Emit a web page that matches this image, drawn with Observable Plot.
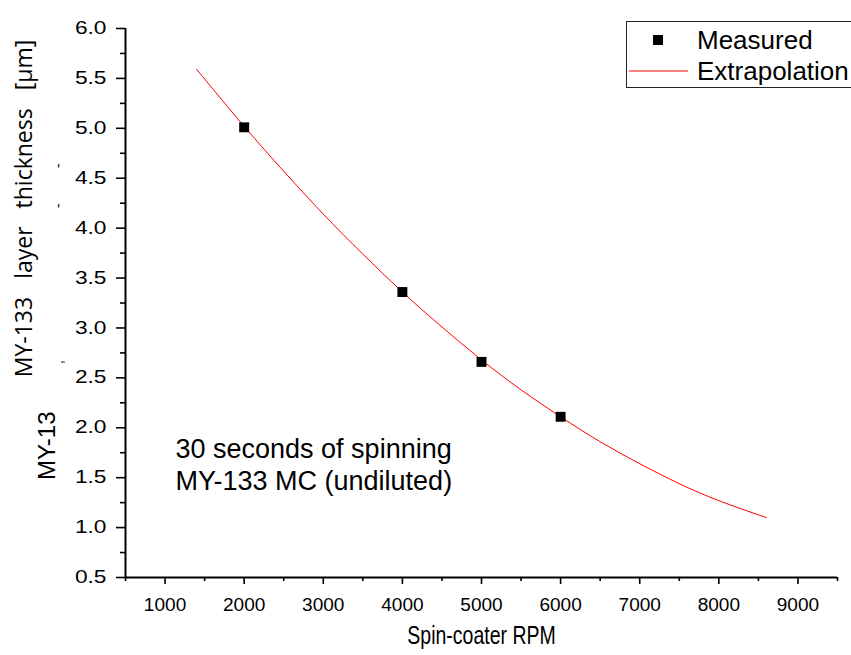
<!DOCTYPE html>
<html>
<head>
<meta charset="utf-8">
<script src="https://cdn.jsdelivr.net/npm/d3@7"></script>
<script src="https://cdn.jsdelivr.net/npm/@observablehq/plot@0.6"></script>
<style>
  html, body { margin: 0; padding: 0; background: white; overflow: hidden; }
  #chart { position: relative; width: 851px; height: 655px; }
</style>
</head>
<body>
<div id="chart"></div>
<script>
// Measured points (RPM, thickness µm)
const measuredRPM = [2000, 4000, 5000, 6000];
const measuredThickness = [5.01, 3.36, 2.66, 2.11];

// Extrapolation curve
const curveRPM = [1400, 2000, 2500, 3000, 3500, 4000, 4500, 5000, 5500, 6000, 6500, 7000, 7500, 8000, 8600];
const curveThickness = [5.59, 5.02, 4.57, 4.14, 3.74, 3.36, 3.01, 2.68, 2.38, 2.11, 1.86, 1.64, 1.44, 1.27, 1.10];

// Axis ticks
const xTicks = [1000, 2000, 3000, 4000, 5000, 6000, 7000, 8000, 9000];
const xMinorTicks = [500, 1500, 2500, 3500, 4500, 5500, 6500, 7500, 8500, 9500];
const yTicks = [0.5, 1.0, 1.5, 2.0, 2.5, 3.0, 3.5, 4.0, 4.5, 5.0, 5.5, 6.0];
const yMinorTicks = [0.75, 1.25, 1.75, 2.25, 2.75, 3.25, 3.75, 4.25, 4.75, 5.25, 5.75];

const xTitle = "Spin-coater RPM";
const yTitle = "MY-133 layer thickness [\u03bcm]";
const noteLines = ["30 seconds of spinning", "MY-133 MC (undiluted)"];
const legendLabels = ["Measured", "Extrapolation"];

const measured = measuredRPM.map((x, i) => ({x, y: measuredThickness[i]}));
const curve = curveRPM.map((x, i) => ({x, y: curveThickness[i]}));

const plot = Plot.plot({
  width: 851,
  height: 655,
  marginTop: 28,
  marginRight: 14,
  marginBottom: 78,
  marginLeft: 125,
  x: {domain: [500, 9500]},
  y: {domain: [0.5, 6.0]},
  style: {fontFamily: "'Liberation Sans', Arial, sans-serif", color: "black", background: "white"},
  marks: [
    Plot.axisX({ticks: xTicks, tickSize: 7, tickPadding: 13, fontSize: 18.5, strokeWidth: 1.6, label: null, tickFormat: d => String(d)}),
    Plot.axisX({ticks: xMinorTicks, tickSize: 4, strokeWidth: 1.6, text: null, label: null}),
    Plot.axisY({ticks: yTicks, tickSize: 9, tickPadding: 10, fontSize: 17.5, strokeWidth: 1.6, label: null, tickFormat: d => d.toFixed(1)}),
    Plot.axisY({ticks: yMinorTicks, tickSize: 5, strokeWidth: 1.6, text: null, label: null}),
    Plot.ruleX([500], {strokeWidth: 2}),
    Plot.ruleY([0.5], {strokeWidth: 2}),
    Plot.line(curve, {x: "x", y: "y", stroke: "red", strokeWidth: 1, curve: "natural"}),
    Plot.dot(measured, {x: "x", y: "y", symbol: "square", fill: "black", r: 5.6}),
    Plot.text([xTitle], {frameAnchor: "bottom", dy: 66, fontSize: 25}),
    Plot.text([yTitle], {frameAnchor: "top-left", dx: -110, dy: 180, rotate: -90, textAnchor: "middle", fontSize: 23, fontFamily: "'Open Sans', sans-serif", fill: "black"}),
    Plot.text([noteLines.join("\n")], {frameAnchor: "top-left", dx: 50, dy: 407, textAnchor: "start", lineAnchor: "top", lineHeight: 1.17, fontSize: 27})
  ]
});

document.getElementById("chart").appendChild(plot);

const svg = d3.select(plot);
// stretch / condense texts like the original export
svg.selectAll('g[aria-label="y-axis tick label"] text').each(function() {
  const t = d3.select(this).attr("transform") || "";
  d3.select(this).attr("transform", t + " scale(1.3,1)");
});
svg.selectAll('g[aria-label="x-axis tick label"] text').each(function() {
  const t = d3.select(this).attr("transform") || "";
  d3.select(this).attr("transform", t + " scale(1.03,1)");
});
svg.selectAll('g[aria-label="text"] text').filter(function() { return d3.select(this).text() === xTitle; }).each(function() {
  const t = d3.select(this).attr("transform") || "";
  d3.select(this).attr("transform", t + " scale(0.78,1)");
});
svg.selectAll('g[aria-label="text"] text').filter(function() { return d3.select(this).text() === yTitle; })
  .attr("word-spacing", "12px");

// leftover label fragments from the original
const frag = svg.append("g").attr("font-family", "'Liberation Sans', Arial, sans-serif").attr("fill", "black").attr("text-anchor", "start");
frag.append("text").attr("transform", "translate(55,480) rotate(-90)").attr("font-size", 24).text("MY-13");
frag.append("text").attr("transform", "translate(63,168) rotate(-90)").attr("font-size", 14).text("-");
frag.append("text").attr("transform", "translate(63,208) rotate(-90)").attr("font-size", 14).text("-");
frag.append("text").attr("transform", "translate(63,364) rotate(-90)").attr("font-size", 14).text(",");

// legend
const lg = svg.append("g").attr("font-family", "'Liberation Sans', Arial, sans-serif").attr("font-size", 26).attr("text-anchor", "start").attr("fill", "black");
lg.append("rect").attr("x", 626.5).attr("y", 21.5).attr("width", 240).attr("height", 66).attr("fill", "white").attr("stroke", "#222").attr("stroke-width", 1);
lg.append("rect").attr("x", 653).attr("y", 35).attr("width", 10).attr("height", 10).attr("fill", "black");
lg.append("text").attr("x", 697).attr("y", 49).text(legendLabels[0]);
lg.append("line").attr("x1", 629).attr("x2", 688).attr("y1", 71).attr("y2", 71).attr("stroke", "red").attr("stroke-width", 1);
lg.append("text").attr("x", 697).attr("y", 80).text(legendLabels[1]);
</script>
</body>
</html>
